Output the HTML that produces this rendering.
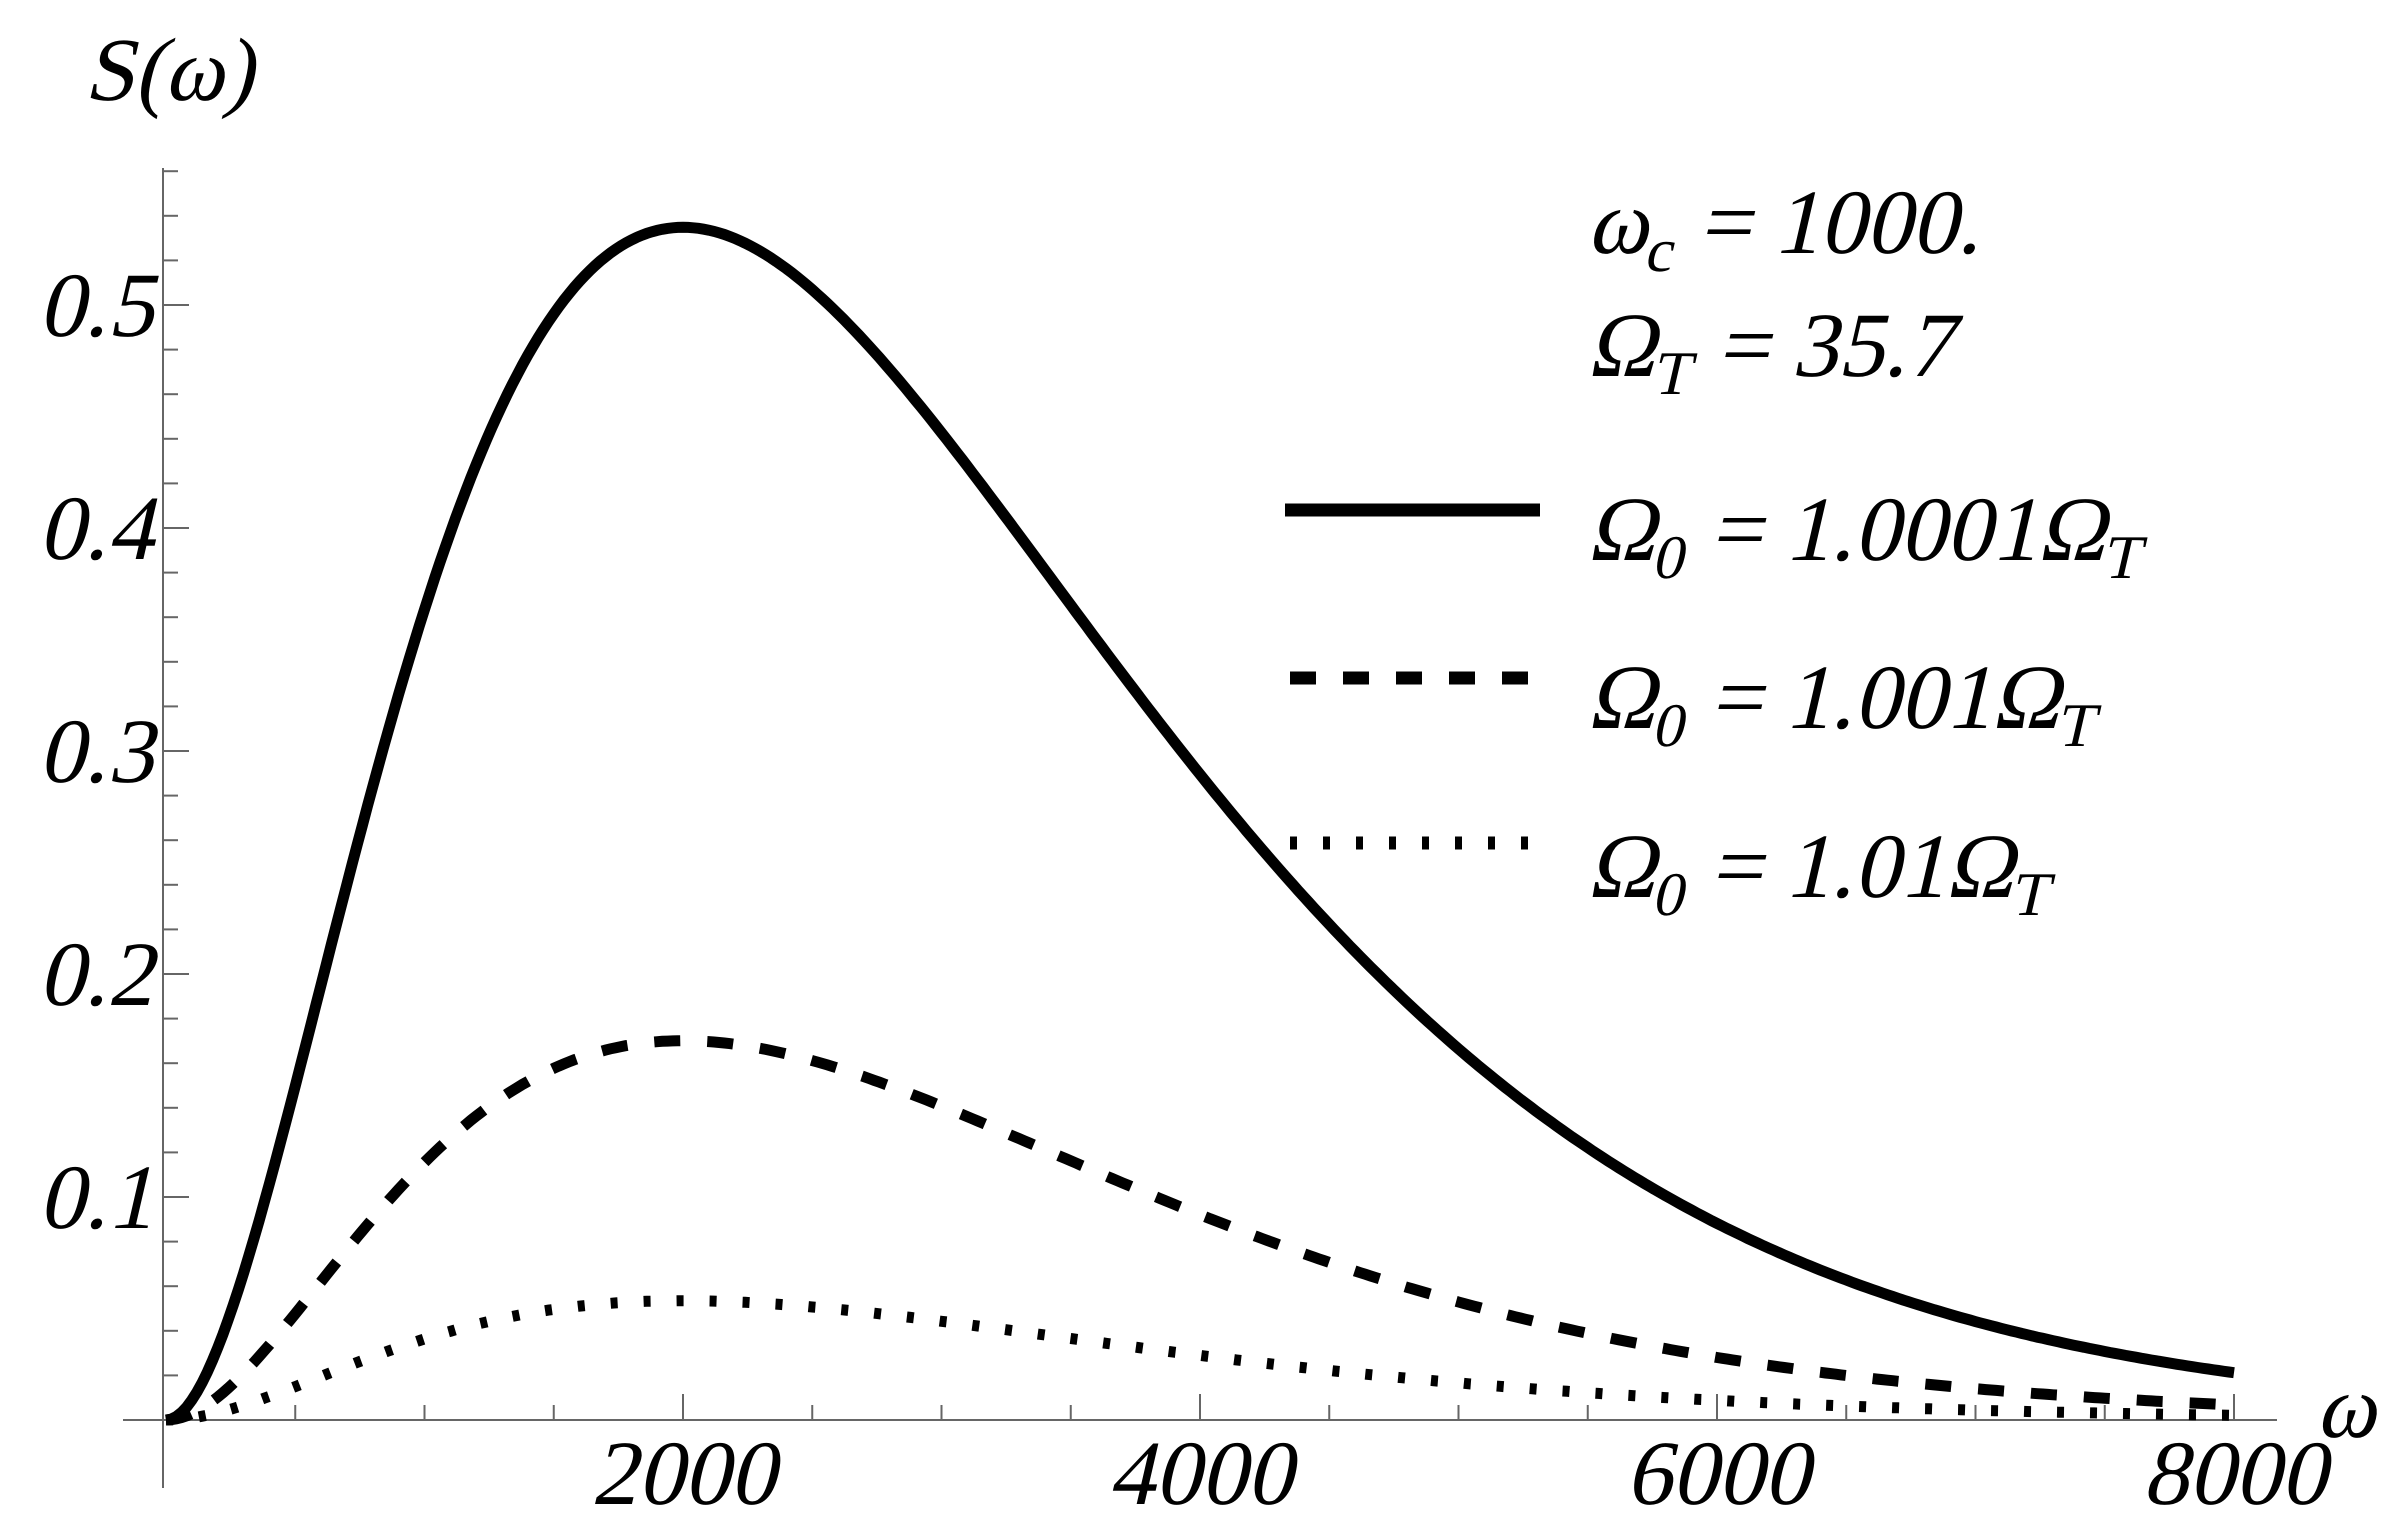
<!DOCTYPE html>
<html><head><meta charset="utf-8"><style>
html,body{margin:0;padding:0;background:#fff;}
svg{display:block;}
svg text, svg tspan{font-family:"Liberation Serif","DejaVu Serif",serif;font-style:normal;fill:#000;}
</style></head><body>
<svg id="s" width="2404" height="1534" viewBox="0 0 2404 1534" xmlns="http://www.w3.org/2000/svg">
<g stroke="#666" stroke-width="2" id="ax">
<line x1="163" y1="168" x2="163" y2="1488"/>
<line x1="123" y1="1420" x2="2277" y2="1420"/>
</g>
<g transform="translate(84,100) skewX(-13)"><text font-size="90">S(ω)</text></g>
<g transform="translate(2316,1437) skewX(-13)"><text font-size="90">ω</text></g>
<g font-size="92" text-anchor="end">
<g transform="translate(153,336) skewX(-13)"><text>0.5</text></g>
<g transform="translate(153,559) skewX(-13)"><text>0.4</text></g>
<g transform="translate(153,782) skewX(-13)"><text>0.3</text></g>
<g transform="translate(153,1005) skewX(-13)"><text>0.2</text></g>
<g transform="translate(153,1228) skewX(-13)"><text>0.1</text></g>
</g>
<g font-size="92" text-anchor="middle">
<g transform="translate(683,1504) skewX(-13)"><text>2000</text></g>
<g transform="translate(1200,1504) skewX(-13)"><text>4000</text></g>
<g transform="translate(1717,1504) skewX(-13)"><text>6000</text></g>
<g transform="translate(2234,1504) skewX(-13)"><text>8000</text></g>
</g>
<g font-size="92">
<g transform="translate(1587,253) skewX(-13)"><text>ω<tspan font-size="62" dy="18">c</tspan><tspan dy="-18"> = 1000.</tspan></text></g>
<g transform="translate(1587,376) skewX(-13)"><text>Ω<tspan font-size="62" dy="18">T</tspan><tspan dy="-18"> = 35.7</tspan></text></g>
<g transform="translate(1587,560) skewX(-13)"><text>Ω<tspan font-size="62" dy="18">0</tspan><tspan dy="-18"> = 1.0001Ω</tspan><tspan font-size="62" dy="18">T</tspan></text></g>
<g transform="translate(1587,728) skewX(-13)"><text>Ω<tspan font-size="62" dy="18">0</tspan><tspan dy="-18"> = 1.001Ω</tspan><tspan font-size="62" dy="18">T</tspan></text></g>
<g transform="translate(1587,897) skewX(-13)"><text>Ω<tspan font-size="62" dy="18">0</tspan><tspan dy="-18"> = 1.01Ω</tspan><tspan font-size="62" dy="18">T</tspan></text></g>
</g>
<line x1="1285" y1="510" x2="1540" y2="510" stroke="#000" stroke-width="13"/>
<line x1="1290" y1="678" x2="1530" y2="678" stroke="#000" stroke-width="13" stroke-dasharray="26 27"/>
<line x1="1290" y1="843" x2="1530" y2="843" stroke="#000" stroke-width="13" stroke-dasharray="7 26"/>
<g id="curves" fill="none" stroke="#000" stroke-width="11"></g>
</svg>
<script>
var ax=document.getElementById('ax'),cg=document.getElementById('curves'),NS="http://www.w3.org/2000/svg";
function L(x1,y1,x2,y2){var l=document.createElementNS(NS,'line');l.setAttribute('x1',x1);l.setAttribute('y1',y1);l.setAttribute('x2',x2);l.setAttribute('y2',y2);ax.appendChild(l);}
for(var i=0;i<=28;i++){var y=1420-i*0.02*2230;if(y<168)break;L(163,y,163+(i%5==0?26:15),y);}
for(var j=1;j<=16;j++){var x=166+j*500*0.2585;L(x,1420,x,1420-(j%4==0?26:15));}
var A=0.988;
function path(k,dash){var d="";for(var n=0;n<=400;n++){var w=8*n/400;var S=k*A*w*w*Math.exp(-w);var x=166+w*1000*0.2585,y=1420-S*2230;d+=(n?"L":"M")+x.toFixed(1)+" "+y.toFixed(1);}
var p=document.createElementNS(NS,'path');p.setAttribute('d',d);if(dash)p.setAttribute('stroke-dasharray',dash);cg.appendChild(p);}
path(1,null);path(0.318,"26 27");path(0.1,"7 26");
</script>
</body></html>
